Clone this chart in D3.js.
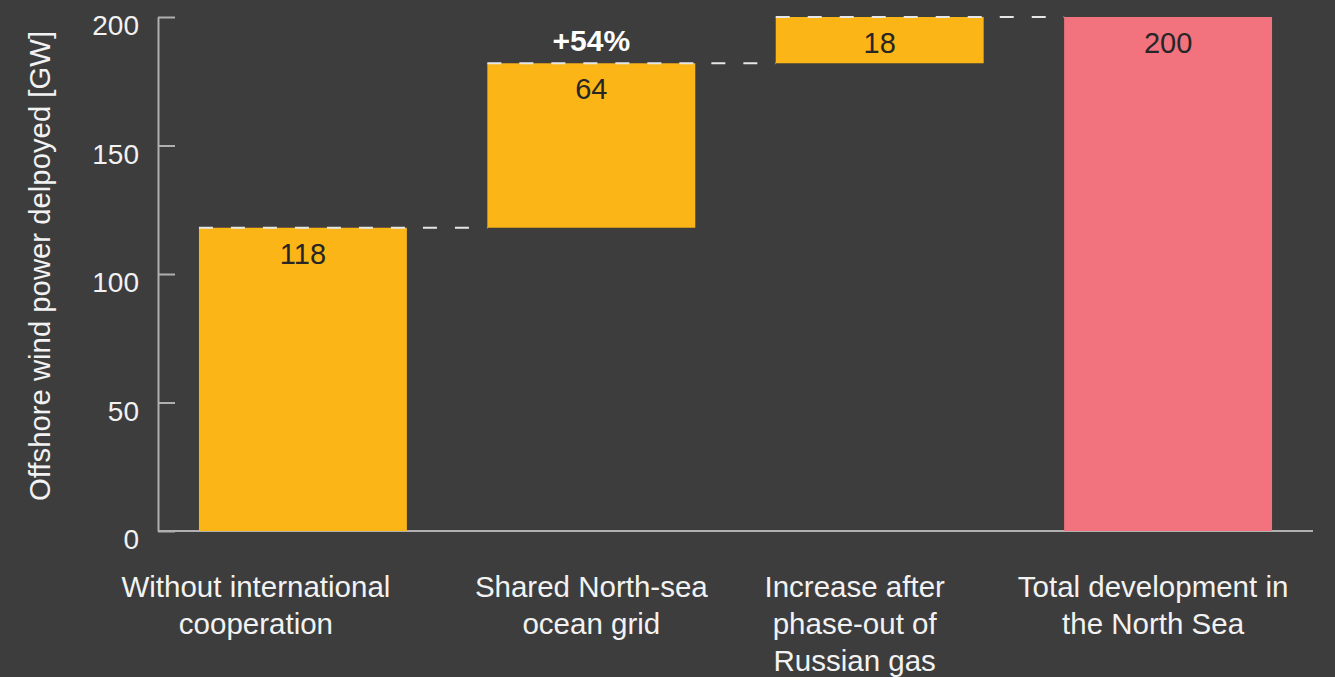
<!DOCTYPE html>
<html>
<head>
<meta charset="utf-8">
<script src="https://cdn.jsdelivr.net/npm/d3@7"></script>
<style>
  html, body { margin: 0; padding: 0; background: #3d3d3d; }
  svg { display: block; font-family: "Liberation Sans", Arial, sans-serif; }
</style>
</head>
<body>
<div id="chart"></div>
<script>
// waterfall: offshore wind in the North Sea
var categories = [
  ['Without international', 'cooperation'],
  ['Shared North-sea', 'ocean grid'],
  ['Increase after', 'phase-out of', 'Russian gas'],
  ['Total development in', 'the North Sea']
];
var values = [118, 64, 18, 200];
var isTotal = [false, false, false, true];
var yTicks = [0, 50, 100, 150, 200];
var growthLabel = '+54%';

var width = 1335, height = 677;
var margin = {top: 17, right: 22, bottom: 146, left: 158};
// category labels sit a bit left of the bar centres in the original
var labelShift = [-47, 0, -25, -15];

// running start/end of each step
var steps = [];
var run = 0;
values.forEach(function(v, i) {
  if (isTotal[i]) {
    steps.push({i: i, y0: 0, y1: v, v: v, total: true});
    run = v;
  } else {
    steps.push({i: i, y0: run, y1: run + v, v: v, total: false});
    run += v;
  }
});

var svg = d3.select('#chart')
    .append('svg')
    .attr('width', width)
    .attr('height', height);

svg.append('rect')
    .attr('width', width)
    .attr('height', height)
    .attr('fill', '#3d3d3d');

var x = d3.scaleBand()
    .domain(d3.range(values.length))
    .range([margin.left, width - margin.right])
    .paddingInner(0.279)
    .paddingOuter(0.142);

var y = d3.scaleLinear()
    .domain([0, 200])
    .range([height - margin.bottom, margin.top]);

// y axis, ticks pointing inwards
var yAxis = svg.append('g')
    .attr('transform', 'translate(' + margin.left + ',0)')
    .call(d3.axisLeft(y).tickValues(yTicks).tickSize(-17).tickSizeOuter(0).tickPadding(19));
yAxis.select('.domain').attr('stroke', '#b0b0b0').attr('stroke-width', 2);
yAxis.selectAll('.tick line').attr('stroke', '#b0b0b0').attr('stroke-width', 2);
yAxis.selectAll('.tick text')
    .attr('fill', '#f2f2f2')
    .attr('font-size', 28)
    .attr('font-family', '"Liberation Sans", Arial, sans-serif')
    .attr('dy', '0.63em');

// x axis baseline
svg.append('line')
    .attr('x1', margin.left)
    .attr('x2', width - margin.right)
    .attr('y1', y(0))
    .attr('y2', y(0))
    .attr('stroke', '#b0b0b0')
    .attr('stroke-width', 2);

svg.append('text')
    .attr('transform', 'translate(50,' + ((y(0) + y(200)) / 2 - 8) + ') rotate(-90)')
    .attr('text-anchor', 'middle')
    .attr('fill', '#f2f2f2')
    .attr('font-size', 29.3)
    .text('Offshore wind power delpoyed [GW]');

// bars
svg.append('g')
    .selectAll('rect')
    .data(steps)
    .join('rect')
    .attr('x', function(d) { return x(d.i); })
    .attr('width', x.bandwidth())
    .attr('y', function(d) { return y(d.y1); })
    .attr('height', function(d) { return y(d.y0) - y(d.y1); })
    .attr('fill', function(d) { return d.total ? '#f2737e' : '#fbb516'; });

// dashed connectors
svg.append('g')
    .selectAll('line')
    .data(steps.slice(0, -1))
    .join('line')
    .attr('x1', function(d) { return x(d.i); })
    .attr('x2', function(d) { return x(d.i + 1); })
    .attr('y1', function(d) { return y(d.y1); })
    .attr('y2', function(d) { return y(d.y1); })
    .attr('stroke', '#e6e6e6')
    .attr('stroke-width', 2)
    .attr('stroke-dasharray', '14,18');

// value labels
svg.append('g')
    .selectAll('text')
    .data(steps)
    .join('text')
    .attr('x', function(d) { return x(d.i) + x.bandwidth() / 2; })
    .attr('y', function(d) { return y(d.y1) + 36; })
    .attr('text-anchor', 'middle')
    .attr('fill', '#262626')
    .attr('font-size', 29)
    .text(function(d) { return d.v; });

svg.append('text')
    .attr('x', x(1) + x.bandwidth() / 2)
    .attr('y', y(steps[1].y1) - 12)
    .attr('text-anchor', 'middle')
    .attr('fill', '#ffffff')
    .attr('font-size', 30)
    .attr('font-weight', 'bold')
    .text(growthLabel);

// category labels
var cat = svg.append('g')
    .selectAll('text')
    .data(categories)
    .join('text')
    .attr('text-anchor', 'middle')
    .attr('fill', '#f2f2f2')
    .attr('font-size', 29.5);

cat.selectAll('tspan')
    .data(function(d, i) { return d.map(function(t) { return {t: t, i: i}; }); })
    .join('tspan')
    .attr('x', function(d) { return x(d.i) + x.bandwidth() / 2 + labelShift[d.i]; })
    .attr('y', function(d, j) { return 597 + j * 37; })
    .text(function(d) { return d.t; });
</script>
</body>
</html>
